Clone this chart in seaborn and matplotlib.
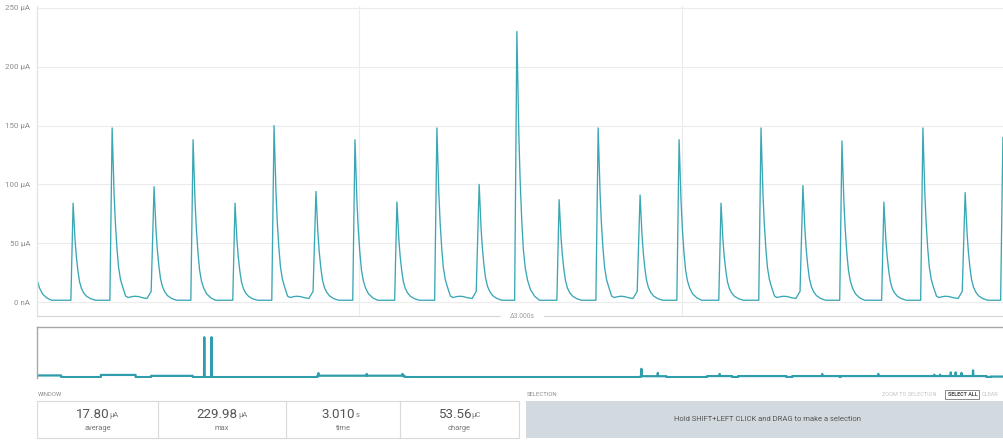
import matplotlib
matplotlib.use("Agg")
import matplotlib.pyplot as plt
from matplotlib.patches import Rectangle
import pandas as pd
import seaborn as sns

# ---- current trace (main window) -------------------------------------------
baseline_uA = 1.5
pulse_time_s = [-0.025, 0.112, 0.233, 0.363, 0.484, 0.614, 0.735, 0.865, 0.986,
                1.116, 1.240, 1.371, 1.488, 1.619, 1.740, 1.870, 1.991, 2.121,
                2.245, 2.375, 2.496, 2.626, 2.747, 2.878, 2.995]
pulse_peak_uA = [138, 84, 148, 98, 138, 84, 150, 94, 138,
                 85, 148, 100, 229.98, 87, 148, 91, 138, 84,
                 148, 99, 137, 85, 148, 93, 140]
# pulses followed by a low plateau before the next event
plateau_after = [False, False, True, False, False, False, True, False, False,
                 False, True, False, False, False, True, False, False, False,
                 True, False, False, False, True, False, False]

rise_ms = 7
decay_ms = [3, 6, 10, 15, 20, 26, 33, 42, 55, 70]
decay_frac = [0.80, 0.62, 0.45, 0.30, 0.19, 0.12, 0.075, 0.04, 0.015, 0.0]
plateau_ms = [42, 50, 60, 70, 82, 95, 108]
plateau_uA = [5.0, 3.8, 4.5, 4.9, 4.6, 3.6, 3.0]
prestep_ms = [-22, -9]
prestep_uA = [3.0, 9.0]

# ---- overview trace (whole recording) --------------------------------------
ov_base_uA = 18
ov_seg_start = [0.0, 6.6, 11.8, 29.0, 62.4, 69.3, 72.5, 78.1, 83.1, 98.6]
ov_seg_end = [2.5, 10.2, 16.1, 38.0, 65.1, 71.9, 77.5, 83.0, 98.2, 100.0]
ov_seg_uA = [50, 60, 42, 45, 35, 38, 38, 38, 38, 28]
ov_blip_t = [17.3, 18.05, 29.1, 34.1, 37.8, 62.5, 64.2, 70.6, 81.2, 87.0,
             92.8, 93.4, 94.5, 95.0, 95.6, 96.8]
ov_blip_uA = [800, 800, 95, 80, 80, 180, 100, 80, 80, 80,
              65, 65, 110, 110, 100, 150]

# ---- summary panel ---------------------------------------------------------
stat_values = ["17.80", f"{max(pulse_peak_uA):.2f}", "3.010", "53.56"]
stat_units = ["\u00b5A", "\u00b5A", "s", "\u00b5C"]
stat_labels = ["average", "max", "time", "charge"]
y_ticks = [0, 50, 100, 150, 200, 250]
y_tick_labels = ["0 nA", "50 \u00b5A", "100 \u00b5A", "150 \u00b5A", "200 \u00b5A", "250 \u00b5A"]

LINE = "#3aa7b5"
LINE_DARK = "#2f9dab"
GRID = "#ececec"


def build_trace():
    ts, vs = [], []
    for i, (t0, p) in enumerate(zip(pulse_time_s, pulse_peak_uA)):
        if i > 0 and plateau_after[i - 1]:
            for off, v in zip(prestep_ms, prestep_uA):
                ts.append(t0 + off / 1000)
                vs.append(v)
        else:
            ts.append(t0 - rise_ms / 1000)
            vs.append(baseline_uA)
        ts.append(t0)
        vs.append(p)
        if plateau_after[i]:
            for off, f in zip(decay_ms, decay_frac):
                if off < plateau_ms[0]:
                    ts.append(t0 + off / 1000)
                    vs.append(baseline_uA + f * (p - baseline_uA))
            for off, v in zip(plateau_ms, plateau_uA):
                ts.append(t0 + off / 1000)
                vs.append(v)
        else:
            for off, f in zip(decay_ms, decay_frac):
                ts.append(t0 + off / 1000)
                vs.append(baseline_uA + f * (p - baseline_uA))
    return pd.DataFrame({"t": ts, "uA": vs})


def build_overview():
    pts = []
    for s, e, lvl in zip(ov_seg_start, ov_seg_end, ov_seg_uA):
        pts += [(s, 0, ov_base_uA), (s, 1, lvl), (e, 0, lvl), (e, 1, ov_base_uA)]
    for t, h in zip(ov_blip_t, ov_blip_uA):
        lvl = ov_base_uA
        for s, e, l in zip(ov_seg_start, ov_seg_end, ov_seg_uA):
            if s <= t <= e:
                lvl = l
        pts += [(t - 0.03, 0, lvl), (t, 0, h), (t + 0.03, 0, lvl)]
    pts.sort(key=lambda q: (q[0], q[1]))
    if pts[0][0] > 0:
        pts.insert(0, (0.0, 0, ov_base_uA))
    return pd.DataFrame({"t": [q[0] for q in pts], "uA": [q[2] for q in pts]})


sns.set_theme(style="white")
plt.rcParams["font.family"] = ["Roboto", "DejaVu Sans"]

W, H = 1004, 441
fig = plt.figure(figsize=(W / 100, H / 100), dpi=100)
fig.patch.set_facecolor("white")


def px_rect(x0, y0, x1, y1):
    return [x0 / W, 1 - y1 / H, (x1 - x0) / W, (y1 - y0) / H]


# main current plot
ax = fig.add_axes(px_rect(37, 6, 1004, 316))
trace = build_trace()
sns.lineplot(data=trace, x="t", y="uA", sort=False, estimator=None,
             color=LINE, linewidth=0.95, ax=ax)
ax.set_xlim(0, (1004 - 37) / 322.5)
ax.set_ylim(-11.9, 251.7)
ax.set_yticks(y_ticks)
ax.set_yticklabels(y_tick_labels)
ax.set_xticks([1, 2])
ax.tick_params(axis="x", length=0, labelbottom=False)
ax.tick_params(axis="y", length=0, pad=5, labelsize=5.7, labelcolor="#8c8c8c")
ax.grid(True, color=GRID, linewidth=0.8)
ax.set_xlabel("")
ax.set_ylabel("")
for side in ["top", "right", "bottom"]:
    ax.spines[side].set_visible(False)
ax.spines["left"].set_color("#e2e2e2")
ax.spines["left"].set_linewidth(0.9)

# overview strip
mini = fig.add_axes(px_rect(37, 327, 1004, 378))
overview = build_overview()
sns.lineplot(data=overview, x="t", y="uA", sort=False, estimator=None,
             color=LINE_DARK, linewidth=1.6, ax=mini)
mini.set_xlim(0, 100)
mini.set_ylim(0, 1000)
mini.set_xticks([])
mini.set_yticks([])
mini.set_xlabel("")
mini.set_ylabel("")
for side in ["right", "bottom"]:
    mini.spines[side].set_visible(False)
for side in ["top", "left"]:
    mini.spines[side].set_color("#a8a8a8")
    mini.spines[side].set_linewidth(1.0)

# interface elements drawn in pixel space
ov = fig.add_axes([0, 0, 1, 1])
ov.set_xlim(0, W)
ov.set_ylim(H, 0)
ov.set_axis_off()

ov.plot([37, 500], [316, 316], color="#d6d6d6", lw=0.8)
ov.plot([544, 1004], [316, 316], color="#d6d6d6", lw=0.8)
ov.text(522, 316, "\u03943.000s", ha="center", va="center", fontsize=4.8, color="#9a9a9a")

ov.text(38, 394, "WINDOW", ha="left", va="center", fontsize=4.2, color="#8a8a8a")
ov.text(527, 394, "SELECTION", ha="left", va="center", fontsize=4.2, color="#8a8a8a")

ov.add_patch(Rectangle((37, 401), 482, 36.5, facecolor="white", edgecolor="#d9d9d9", lw=0.8))
edges = [37, 158, 286, 400, 519]
ov.vlines(edges[1:-1], 401, 437.5, color="#d9d9d9", lw=0.8)
for k in range(4):
    cx = (edges[k] + edges[k + 1]) / 2
    num = ov.text(cx - 5, 414, stat_values[k], ha="center", va="center",
                  fontsize=9.6, color="#555555")
    ov.annotate(stat_units[k], xy=(1, 0), xycoords=num, xytext=(0.3, 1.2),
                textcoords="offset points", ha="left", va="bottom",
                fontsize=5.4, color="#777777")
    ov.text(cx, 429, stat_labels[k], ha="center", va="center", fontsize=5.4, color="#777777")

ov.add_patch(Rectangle((526, 401), 480, 36.5, facecolor="#d3dadf", edgecolor="none"))
ov.text(768, 419, "Hold SHIFT+LEFT CLICK and DRAG to make a selection",
        ha="center", va="center", fontsize=5.5, color="#555555")

ov.text(882, 394, "ZOOM TO SELECTION", ha="left", va="center", fontsize=4.0, color="#c4c4c4")
ov.add_patch(Rectangle((945.5, 389.5), 34, 9.5, fill=False, edgecolor="#777777", lw=0.6))
ov.text(962.5, 394.3, "SELECT ALL", ha="center", va="center", fontsize=3.9,
        color="#444444", fontweight="bold")
ov.text(982, 394, "CLEAR", ha="left", va="center", fontsize=4.0, color="#c4c4c4")

fig.savefig("out.png", dpi=100, facecolor="white")
